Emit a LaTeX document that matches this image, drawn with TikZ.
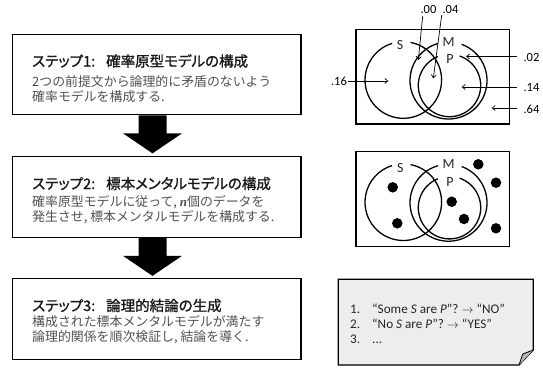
\documentclass[tikz,border=0pt]{standalone}
\usepackage{fontspec}
\setmainfont{Carlito}
\newfontfamily\jp{Noto Sans CJK JP}
\newfontfamily\jpt[RawFeature={+palt},FakeBold=1.2]{Noto Sans CJK JP}
\newfontfamily\lser{Liberation Serif}
\usetikzlibrary{arrows.meta,calc}
\begin{document}
\begin{tikzpicture}[x=1pt,y=-1pt,
  stepbox/.style={draw=black,line width=1.2pt,minimum width=288.5pt,minimum height=80.5pt,inner sep=0pt},
  ttl/.style={anchor=base west,inner sep=0pt,font=\jpt\fontsize{14.5}{14.5}\selectfont,text=black!90},
  bdy/.style={anchor=base west,inner sep=0pt,font=\jp\fontsize{12.9}{12.9}\selectfont,text=black!68},
  blk/.style={fill=black},
  vbox/.style={draw=black,line width=1.4pt,minimum width=153.3pt,minimum height=94.7pt,inner sep=0pt},
  vc/.style={line width=1.3pt},
  vlab/.style={font=\fontsize{14}{14}\selectfont,inner sep=0pt,text=black!85},
  num/.style={font=\fontsize{12.5}{12.5}\selectfont,inner sep=0pt},
  parr/.style={line width=0.7pt,-{Straight Barb[length=3pt,width=5pt]}},
  dot/.style={circle,fill=black,minimum size=10.5pt,inner sep=0pt},
  itm/.style={anchor=base west,inner sep=0pt,text height=9pt,text depth=0pt,font=\fontsize{13.2}{13.2}\selectfont,text=black!85}
]
\useasboundingbox (0,0) rectangle (543,367);
\fill[white] (0,0) rectangle (543,367);

% ---------- step boxes ----------
\node[stepbox] (b1) at (156.75,74.5) {};
\node[stepbox] (b2) at (156.75,197) {};
\node[stepbox] (b3) at (156.75,319) {};

\node[ttl] (t1) at (32,66.5) {ステップ1:};
\node[ttl] (t1x) at (106,66.5) {確率原型モデルの構成};
\node[bdy] (t1a) at (32,86.5) {2つの前提文から論理的に矛盾のないよう};
\node[bdy] (t1b) at (32,101.5) {確率モデルを構成する.};

\node[ttl] (t2) at (32,189) {ステップ2:};
\node[ttl] (t2x) at (106,189) {標本メンタルモデルの構成};
\node[bdy] (t2a) at (32,206.5) {確率原型モデルに従って, {\lser\bfseries\itshape n}個のデータを};
\node[bdy] (t2b) at (32,221.5) {発生させ, 標本メンタルモデルを構成する.};

\node[ttl] (t3) at (32,311) {ステップ3:};
\node[ttl] (t3x) at (106,311) {論理的結論の生成};
\node[bdy] (t3a) at (32,326) {構成された標本メンタルモデルが満たす};
\node[bdy] (t3b) at (32,341) {論理的関係を順次検証し, 結論を導く.};

% ---------- block arrows ----------
\fill[blk] ([xshift=-18.25pt]b1.south) -- ++(28,0) -- ++(0,18) -- ++(15.5,0) -- ++(-29.5,20) -- ++(-29.5,-20) -- ++(15.5,0) -- cycle;
\fill[blk] ([xshift=-18.25pt]b2.south) -- ++(28,0) -- ++(0,18) -- ++(15.5,0) -- ++(-29.5,20) -- ++(-29.5,-20) -- ++(15.5,0) -- cycle;

% ---------- Venn diagram 1 ----------
\node[vbox] (v1) at (432.65,76.65) {};
\coordinate (S1) at (403.3,80);
\coordinate (M1) at (448.5,80.5);
\coordinate (P1) at (449.5,85.5);
\draw[vc] ($(S1)+(-79:38.3)$) arc[start angle=-79,end angle=253,radius=38.3];
\draw[vc] ($(M1)+(-70:38.5)$) arc[start angle=-70,end angle=254,radius=38.5];
\draw[vc] ($(P1)+(-71:31.2)$) arc[start angle=-71,end angle=248,radius=31.2];
\node[vlab] (lS1) at (400,45) {S};
\node[vlab] (lM1) at (448.5,42) {M};
\node[vlab] (lP1) at (450,59.5) {P};

\node[num] (n00) at (428.5,9) {.00};
\node[num] (n04) at (450.5,9) {.04};
\node[num] (n02) at (531.5,57) {.02};
\node[num] (n14) at (531.5,87.5) {.14};
\node[num] (n64) at (531.5,109) {.64};
\node[num] (n16) at (339,81) {.16};
\coordinate (a00) at (418.3,60);
\coordinate (a04) at (433.3,78.3);
\coordinate (a02) at (466,56.5);
\coordinate (a14) at (461.7,87);
\coordinate (a64) at (491.7,108);
\coordinate (a16) at (388.3,81);
\draw[parr] (422.7,16) -- (a00);
\draw[parr] (441.7,15) -- (a04);
\draw[parr] (516.7,56.5) -- (a02);
\draw[parr] (516.7,87) -- (a14);
\draw[parr] (516.7,108) -- (a64);
\draw[parr] (347.5,81) -- (a16);

% ---------- Venn diagram 2 ----------
\node[vbox] (v2) at (432.65,198.85) {};
\coordinate (S2) at (403.3,202.2);
\coordinate (M2) at (448.5,202.7);
\coordinate (P2) at (449.5,207.7);
\draw[vc] ($(S2)+(-79:38.3)$) arc[start angle=-79,end angle=253,radius=38.3];
\draw[vc] ($(M2)+(-70:38.5)$) arc[start angle=-70,end angle=254,radius=38.5];
\draw[vc] ($(P2)+(-71:31.2)$) arc[start angle=-71,end angle=248,radius=31.2];
\node[vlab] (lS2) at (400.3,168) {S};
\node[vlab] (lM2) at (448.5,164.5) {M};
\node[vlab] (lP2) at (450,182) {P};
\node[dot] (d1) at (392.7,187.3) {};
\node[dot] (d2) at (397.3,223.3) {};
\node[dot] (d3) at (451.7,201.7) {};
\node[dot] (d4) at (464,219) {};
\node[dot] (d5) at (478.3,164.3) {};
\node[dot] (d6) at (496,182.7) {};
\node[dot] (d7) at (496,228.3) {};

% ---------- note ----------
\filldraw[fill=black!7,draw=black,line width=1.2pt] (338.3,279.3) -- (533.3,279.3) -- (533.3,350) -- (519,365) -- (338.3,365) -- cycle;
\filldraw[fill=black!30,draw=black,line width=0.8pt] (519,365) .. controls (520.5,360) .. (522.7,354) -- (533.3,350);
\node[itm] (i1) at (350,313.5) {1.};
\node[itm] (i2) at (350,328.5) {2.};
\node[itm] (i3) at (350,343.5) {3.};
\node[itm] (j1) at (372,313.5) {“Some \textit{S} are \textit{P}”? $\rightarrow$ “NO”};
\node[itm] (j2) at (372,328.5) {“No \textit{S} are \textit{P}”? $\rightarrow$ “YES”};
\node[itm] (j3) at (372,343.5) {...};
\end{tikzpicture}
\end{document}
